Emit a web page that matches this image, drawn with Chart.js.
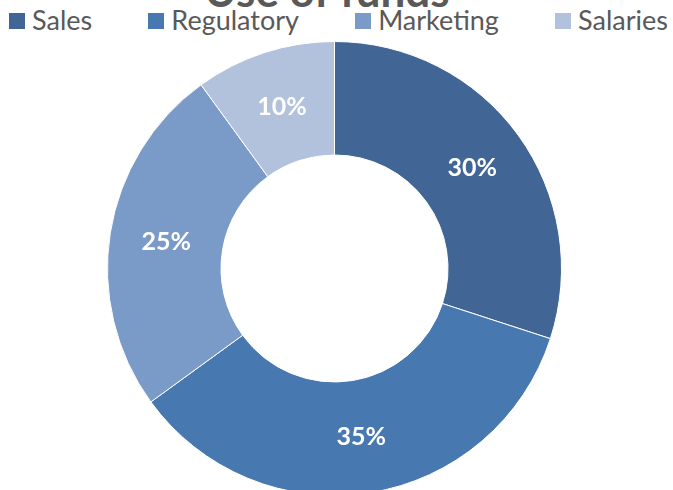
<!DOCTYPE html>
<html>
<head>
<meta charset="utf-8">
<script src="https://cdn.jsdelivr.net/npm/chart.js@4/dist/chart.umd.min.js"></script>
<style>
    html, body { margin: 0; padding: 0; background: #fff; }
    body { width: 673px; height: 490px; position: relative; overflow: hidden; font-family: Lato, "Open Sans", sans-serif; }
    #titulo {
        position: absolute; left: 0; top: -32px; width: 654px;
        text-align: center; font-weight: bold; font-size: 44px; line-height: 44px; color: #595959;
    }
    #leyenda {
        position: absolute; left: 9px; top: 6px; width: 659px;
        display: flex; justify-content: space-between; align-items: center;
        font-size: 27px; line-height: 27px; color: #595959;
    }
    .item { display: flex; align-items: center; white-space: nowrap; }
    .caja { width: 16px; height: 16px; margin-right: 7px; margin-top: 3px; }
    #contenedor { position: absolute; left: 0; top: 41px; width: 673px; height: 455px; }
</style>
</head>
<body>
<div id="titulo">Use of funds</div>
<div id="leyenda"></div>
<div id="contenedor"><canvas id="fondosChart"></canvas></div>
<script>
// Datos del gráfico
const categorias = ['Sales', 'Regulatory', 'Marketing', 'Salaries'];
const porcentajes = [30, 35, 25, 10];
const colores = ['#416695', '#4878B0', '#7A9AC8', '#B3C2DC'];

document.addEventListener('DOMContentLoaded', function() {
    // Leyenda en HTML
    const leyenda = document.getElementById('leyenda');
    categorias.forEach((cat, i) => {
        const item = document.createElement('div');
        item.className = 'item';
        const caja = document.createElement('span');
        caja.className = 'caja';
        caja.style.background = colores[i];
        const texto = document.createElement('span');
        texto.textContent = cat;
        item.appendChild(caja);
        item.appendChild(texto);
        leyenda.appendChild(item);
    });

    // Etiquetas de porcentaje dentro de cada segmento
    const etiquetasPlugin = {
        id: 'etiquetas',
        afterDatasetsDraw(chart) {
            const ctx = chart.ctx;
            const meta = chart.getDatasetMeta(0);
            ctx.save();
            ctx.fillStyle = '#ffffff';
            ctx.font = 'bold 25px Lato, "Open Sans", sans-serif';
            ctx.textAlign = 'center';
            ctx.textBaseline = 'middle';
            meta.data.forEach((arc, i) => {
                const pos = arc.tooltipPosition();
                ctx.fillText(porcentajes[i] + '%', pos.x, pos.y);
            });
            ctx.restore();
        }
    };

    const ctxFondos = document.getElementById('fondosChart').getContext('2d');
    new Chart(ctxFondos, {
        type: 'doughnut',
        data: {
            labels: categorias,
            datasets: [{
                data: porcentajes,
                backgroundColor: colores,
                borderColor: '#ffffff',
                borderWidth: 1
            }]
        },
        options: {
            responsive: true,
            maintainAspectRatio: false,
            animation: false,
            cutout: '50%',
            layout: { padding: { right: 4 } },
            plugins: {
                legend: { display: false },
                title: { display: false },
                tooltip: { enabled: false }
            }
        },
        plugins: [etiquetasPlugin]
    });
});
</script>
</body>
</html>
